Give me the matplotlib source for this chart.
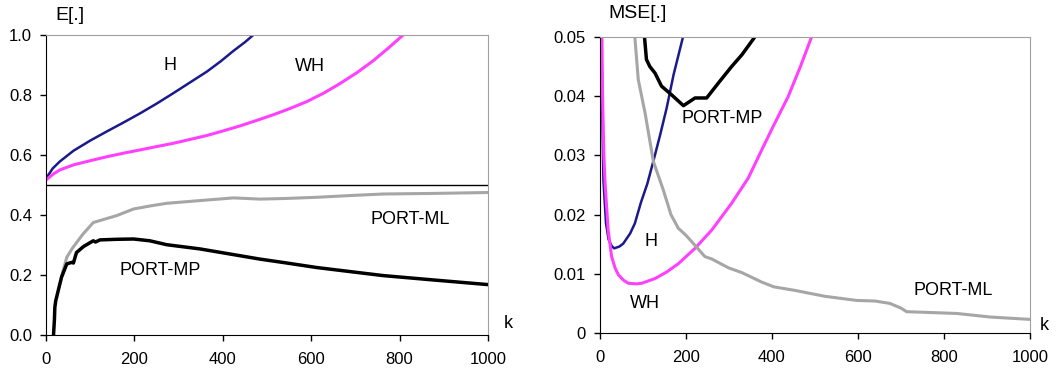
import matplotlib.pyplot as plt

plt.rcParams['font.family'] = ['Liberation Sans', 'DejaVu Sans']
plt.rcParams['font.size'] = 12

# ---- left panel: E[.] ----
k_h_e = [3, 15, 31, 62, 100, 137, 175, 213, 250, 288, 326, 364, 395, 424, 450, 469, 480]
e_h = [0.528, 0.555, 0.578, 0.614, 0.648, 0.678, 0.708, 0.739, 0.771, 0.806, 0.842, 0.878, 0.912, 0.947, 0.976, 1.0, 1.015]

k_wh_e = [3, 15, 31, 62, 100, 137, 175, 213, 250, 288, 326, 364, 400, 439, 476, 514, 552, 590, 628, 665, 703, 741, 775, 808, 820]
e_wh = [0.52, 0.535, 0.55, 0.567, 0.581, 0.594, 0.606, 0.617, 0.628, 0.639, 0.652, 0.665, 0.68, 0.697, 0.715, 0.734, 0.755, 0.778, 0.806, 0.838, 0.874, 0.915, 0.957, 1.0, 1.015]

k_ml_e = [35, 47, 60, 84, 107, 130, 160, 198, 235, 273, 348, 424, 484, 540, 612, 690, 763, 880, 1000]
e_ml = [0.195, 0.259, 0.29, 0.337, 0.375, 0.385, 0.398, 0.42, 0.43, 0.439, 0.448, 0.457, 0.453, 0.455, 0.459, 0.465, 0.47, 0.472, 0.475]

k_mp_e = [17, 19, 20, 22, 28, 35, 47, 58, 62, 69, 85, 107, 112, 122, 160, 198, 235, 273, 348, 424, 484, 540, 612, 690, 763, 880, 1000]
e_mp = [0.0, 0.05, 0.092, 0.114, 0.15, 0.192, 0.237, 0.242, 0.24, 0.275, 0.295, 0.314, 0.31, 0.317, 0.319, 0.32, 0.314, 0.301, 0.287, 0.268, 0.253, 0.241, 0.225, 0.211, 0.198, 0.183, 0.168]

# ---- right panel: MSE[.] ----
k_h_m = [2, 5, 8, 14, 20, 27, 33, 45, 54, 70, 81, 95, 110, 124, 140, 155, 171, 193, 200]
m_h = [0.06, 0.038, 0.0258, 0.0185, 0.0158, 0.0147, 0.0143, 0.0146, 0.0151, 0.0168, 0.0185, 0.022, 0.0252, 0.029, 0.0335, 0.038, 0.0436, 0.05, 0.053]

k_wh_m = [3, 6, 9, 12, 19, 27, 35, 43, 55, 66, 85, 97, 128, 155, 182, 221, 260, 306, 345, 370, 400, 438, 466, 492, 500]
m_wh = [0.06, 0.04, 0.03, 0.025, 0.0174, 0.0129, 0.011, 0.0098, 0.0089, 0.0084, 0.0083, 0.0084, 0.0092, 0.0103, 0.0117, 0.0143, 0.0174, 0.0219, 0.0262, 0.030, 0.0345, 0.040, 0.045, 0.05, 0.052]

k_ml_m = [79, 81, 89, 105, 124, 147, 165, 182, 200, 221, 244, 260, 299, 330, 376, 404, 453, 523, 597, 640, 674, 700, 713, 830, 907, 1000]
m_ml = [0.055, 0.05, 0.0428, 0.0371, 0.029, 0.0242, 0.02, 0.0177, 0.0165, 0.0148, 0.0129, 0.0125, 0.011, 0.0102, 0.0086, 0.0078, 0.0072, 0.0062, 0.0055, 0.0054, 0.005, 0.0042, 0.0036, 0.0033, 0.0027, 0.0023]

k_mp_m = [101, 103, 108, 116, 128, 143, 167, 194, 221, 248, 275, 306, 330, 360, 370]
m_mp = [0.055, 0.0504, 0.0462, 0.045, 0.0439, 0.0417, 0.0402, 0.0384, 0.0397, 0.0397, 0.0422, 0.045, 0.047, 0.05, 0.052]

c_h = '#1a1a8c'
c_wh = '#ff40ff'
c_ml = '#a6a6a6'
c_mp = 'black'

fig = plt.figure(figsize=(10.57, 3.76), dpi=100)
ax1 = fig.add_axes([46 / 1057, 1 - 335 / 376, 442 / 1057, 300 / 376])
ax2 = fig.add_axes([600 / 1057, 1 - 333 / 376, 430 / 1057, 296 / 376])


def style(ax):
    ax.spines['top'].set_color('#a0a0a0')
    ax.spines['right'].set_color('#a0a0a0')
    ax.spines['left'].set_color('black')
    ax.spines['bottom'].set_color('black')
    ax.tick_params(direction='out', length=4.5, width=1, labelsize=12)
    ax.tick_params(axis='x', pad=7.5)
    ax.tick_params(axis='y', pad=5.5)
    ax.set_xlim(0, 1000)
    ax.set_xticks(range(0, 1001, 200))


ax1.plot(k_h_e, e_h, color=c_h, lw=1.8)
ax1.plot(k_wh_e, e_wh, color=c_wh, lw=2.2)
ax1.plot(k_ml_e, e_ml, color=c_ml, lw=2.2)
ax1.plot(k_mp_e, e_mp, color=c_mp, lw=2.5)
ax1.axhline(0.5, color='black', lw=1)
ax1.set_ylim(0, 1)
ax1.set_yticks([0, 0.2, 0.4, 0.6, 0.8, 1.0])
ax1.set_yticklabels(['0.0', '0.2', '0.4', '0.6', '0.8', '1.0'])
style(ax1)
ax1.text(281, 0.9, 'H', ha='center', va='center', fontsize=13)
ax1.text(597, 0.895, 'WH', ha='center', va='center', fontsize=13)
ax1.text(824, 0.385, 'PORT-ML', ha='center', va='center', fontsize=13)
ax1.text(258, 0.215, 'PORT-MP', ha='center', va='center', fontsize=13)

ax2.plot(k_h_m, m_h, color=c_h, lw=1.8)
ax2.plot(k_wh_m, m_wh, color=c_wh, lw=2.2)
ax2.plot(k_ml_m, m_ml, color=c_ml, lw=2.2)
ax2.plot(k_mp_m, m_mp, color=c_mp, lw=2.5)
ax2.set_ylim(0, 0.05)
ax2.set_yticks([0, 0.01, 0.02, 0.03, 0.04, 0.05])
ax2.set_yticklabels(['0', '0.01', '0.02', '0.03', '0.04', '0.05'])
style(ax2)
ax2.text(284, 0.0363, 'PORT-MP', ha='center', va='center', fontsize=13)
ax2.text(119, 0.0155, 'H', ha='center', va='center', fontsize=13)
ax2.text(105, 0.005, 'WH', ha='center', va='center', fontsize=13)
ax2.text(821, 0.0072, 'PORT-ML', ha='center', va='center', fontsize=13)

fig.text(55 / 1057, 1 - 15 / 376, 'E[.]', ha='left', va='center', fontsize=14)
fig.text(608 / 1057, 1 - 13 / 376, 'MSE[.]', ha='left', va='center', fontsize=14)
fig.text(508 / 1057, 1 - 323 / 376, 'k', ha='center', va='center', fontsize=13)
fig.text(1044 / 1057, 1 - 325 / 376, 'k', ha='center', va='center', fontsize=13)

fig.savefig('out.png', dpi=100)
